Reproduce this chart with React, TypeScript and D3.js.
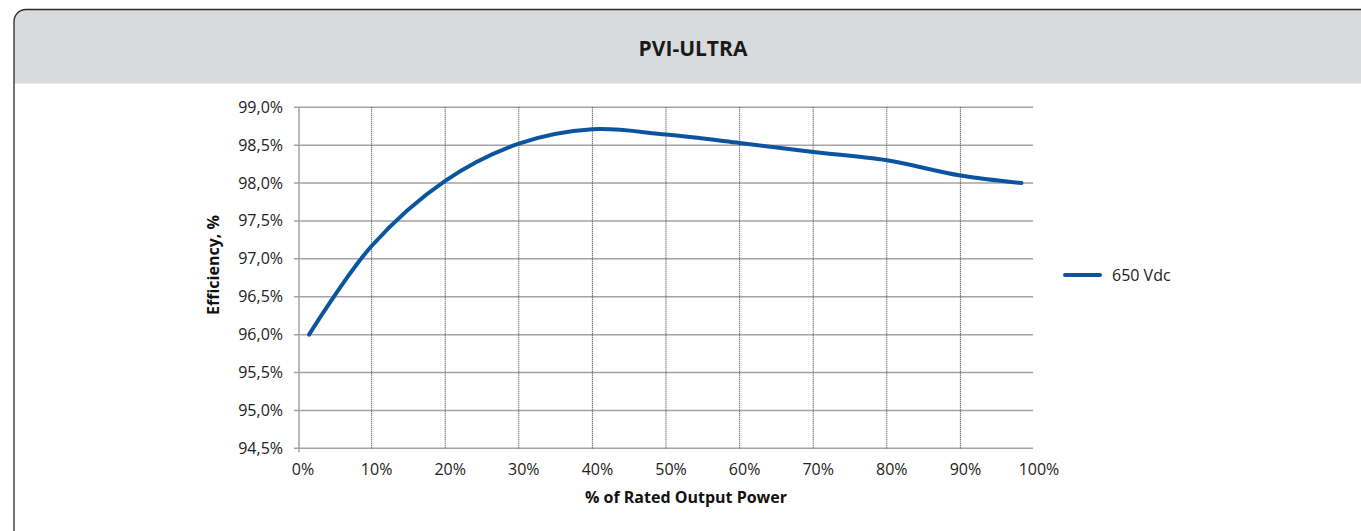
import React from "react";
import * as d3 from "d3";

const title = "PVI-ULTRA";
const seriesName = "650 Vdc";
const xTitle = "% of Rated Output Power";
const yTitle = "Efficiency, %";

const powerPct = [1.5, 10, 20, 30, 40, 50, 60, 70, 80, 90, 98.3];
const efficiency = [96.0, 97.17, 98.03, 98.52, 98.71, 98.64, 98.53, 98.41, 98.3, 98.1, 98.0];

const xTicks = [0, 10, 20, 30, 40, 50, 60, 70, 80, 90, 100];
const yTicks = [94.5, 95.0, 95.5, 96.0, 96.5, 97.0, 97.5, 98.0, 98.5, 99.0];

const W = 1361;
const H = 531;
const LINE_COLOR = "#0b54a0";

export default function App() {
  const x = d3.scaleLinear().domain([0, 100]).range([298, 1034]);
  const y = d3.scaleLinear().domain([94.5, 99.0]).range([448.3, 107.3]);
  const plotRight = 1033;

  const pts: [number, number][] = powerPct.map((p, i) => [p, efficiency[i]]);
  const line = d3
    .line<[number, number]>()
    .x((d) => x(d[0]))
    .y((d) => y(d[1]))
    .curve(d3.curveCatmullRom.alpha(0.5));

  const fmtY = (v: number) => v.toFixed(1).replace(".", ",") + "%";
  const font = "'Open Sans', 'Noto Sans', sans-serif";

  return (
    <div style={{ position: "absolute", left: 0, top: 0 }}>
      <svg width={W} height={H} style={{ display: "block" }}>
        <rect x={0} y={0} width={W} height={H} fill="#ffffff" />
        <defs>
          <clipPath id="frameClip">
            <rect x={14} y={9.5} width={1420} height={560} rx={12} />
          </clipPath>
        </defs>
        <g clipPath="url(#frameClip)">
          <rect x={14} y={9.5} width={1420} height={74} fill="#d9dadc" />
        </g>
        <rect
          x={14}
          y={9.5}
          width={1420}
          height={560}
          rx={12}
          fill="none"
          stroke="#2b2b2b"
          strokeWidth={1.3}
        />
        <text
          x={693}
          y={55.5}
          textAnchor="middle"
          fontFamily={font}
          fontWeight="bold"
          fontSize={21}
          fill="#1a1a1a"
        >
          {title}
        </text>

        {/* horizontal gridlines */}
        {yTicks.map((t) => (
          <line
            key={"h" + t}
            x1={x(0) - 4}
            x2={plotRight}
            y1={y(t)}
            y2={y(t)}
            stroke="#a3a3a3"
            strokeWidth={1.5}
          />
        ))}
        {/* vertical dotted gridlines */}
        {xTicks
          .filter((t) => t > 0 && t < 100)
          .map((t) => (
            <line
              key={"v" + t}
              x1={x(t)}
              x2={x(t)}
              y1={y(99.0)}
              y2={y(94.5)}
              stroke="#3a3a3a"
              strokeWidth={1}
              strokeDasharray="1,1"
            />
          ))}
        {/* y axis */}
        <line x1={x(0) + 1} x2={x(0) + 1} y1={y(99.0)} y2={y(94.5) + 4} stroke="#a3a3a3" strokeWidth={1.5} />

        {yTicks.map((t) => (
          <text
            key={"yl" + t}
            x={283}
            y={y(t) + 5.5}
            textAnchor="end"
            fontFamily={font}
            fontSize={16}
            fill="#222"
          >
            {fmtY(t)}
          </text>
        ))}
        {xTicks.map((t) => (
          <text
            key={"xl" + t}
            x={x(t) + 5}
            y={475}
            textAnchor="middle"
            fontFamily={font}
            fontSize={16}
            fill="#222"
          >
            {t + "%"}
          </text>
        ))}

        <text
          x={686}
          y={503}
          textAnchor="middle"
          fontFamily={font}
          fontWeight="bold"
          fontSize={16}
          fill="#111"
        >
          {xTitle}
        </text>
        <text
          transform={`translate(${219},${265}) rotate(-90)`}
          textAnchor="middle"
          fontFamily={font}
          fontWeight="bold"
          fontSize={16}
          fill="#111"
        >
          {yTitle}
        </text>

        <path
          d={line(pts) || ""}
          fill="none"
          stroke={LINE_COLOR}
          strokeWidth={4}
          strokeLinecap="round"
          strokeLinejoin="round"
        />

        {/* legend */}
        <line x1={1065} x2={1100} y1={275} y2={275} stroke={LINE_COLOR} strokeWidth={4} strokeLinecap="round" />
        <text x={1112} y={281} fontFamily={font} fontSize={16} fill="#222">
          {seriesName}
        </text>
      </svg>
    </div>
  );
}
